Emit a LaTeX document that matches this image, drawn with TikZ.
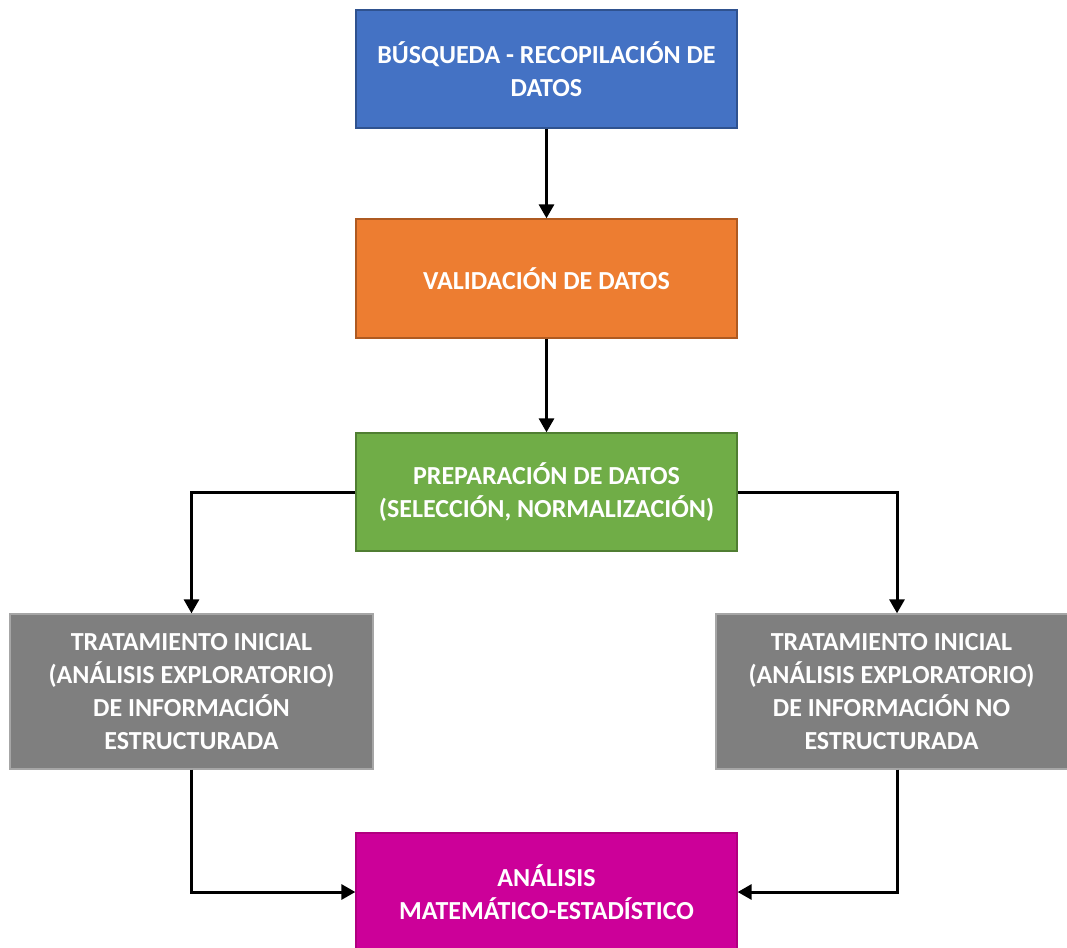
\documentclass[tikz,border=0pt]{standalone}
\usepackage{fontspec}
\setmainfont{Carlito}
\usetikzlibrary{arrows.meta}
\definecolor{bluefill}{HTML}{4472C4}
\definecolor{blueline}{HTML}{2F528F}
\definecolor{orangefill}{HTML}{ED7D31}
\definecolor{orangeline}{HTML}{AE5A21}
\definecolor{greenfill}{HTML}{70AD47}
\definecolor{greenline}{HTML}{507E32}
\definecolor{grayfill}{HTML}{7F7F7F}
\definecolor{grayline}{HTML}{A6A6A6}
\definecolor{magentafill}{HTML}{CC0099}
\definecolor{magentaline}{HTML}{B0007F}
\tikzset{
  stagebox/.style={rectangle, line width=1.3pt, text=white, align=center,
    font=\fontsize{26}{33}\selectfont\bfseries, inner sep=0pt},
  flow/.style={line width=3pt, -{Triangle[length=14pt,width=15pt]}},
}
\begin{document}
\begin{tikzpicture}[x=1pt,y=-1pt]
\useasboundingbox (0,0) rectangle (1067,947);

% process stages
\node[stagebox, fill=bluefill, draw=blueline, minimum width=381pt, minimum height=118pt]
  (busqueda) at (546.5,69) {BÚSQUEDA - RECOPILACIÓN DE\\DATOS};
\node[stagebox, fill=orangefill, draw=orangeline, minimum width=381pt, minimum height=119pt]
  (validacion) at (546.5,278.5) {VALIDACIÓN DE DATOS};
\node[stagebox, fill=greenfill, draw=greenline, minimum width=381pt, minimum height=118pt]
  (preparacion) at (546.5,492) {PREPARACIÓN DE DATOS\\(SELECCIÓN, NORMALIZACIÓN)};
\node[stagebox, fill=grayfill, draw=grayline, minimum width=363pt, minimum height=155pt]
  (estructurada) at (191.5,691.5) {TRATAMIENTO INICIAL\\(ANÁLISIS EXPLORATORIO)\\DE INFORMACIÓN\\ESTRUCTURADA};
\node[stagebox, fill=grayfill, draw=grayline, minimum width=362pt, minimum height=155pt]
  (noestructurada) at (897,691.5) {};
\node[stagebox, align=center] (noestructuradatxt) at (891.5,691.5)
  {TRATAMIENTO INICIAL\\(ANÁLISIS EXPLORATORIO)\\DE INFORMACIÓN NO\\ESTRUCTURADA};
\node[stagebox, fill=magentafill, draw=magentaline, minimum width=381pt, minimum height=118pt]
  (analisis) at (546.5,892) {ANÁLISIS\\MATEMÁTICO-ESTADÍSTICO};

% connectors
\draw[flow] (busqueda) -- (validacion);
\draw[flow] (validacion) -- (preparacion);
\draw[flow] (preparacion.west) -| (estructurada.north);
\draw[flow] (preparacion.east) -| (noestructurada.north);
\draw[flow] (estructurada.south) |- (analisis.west);
\draw[flow] (noestructurada.south) |- (analisis.east);
\end{tikzpicture}
\end{document}
